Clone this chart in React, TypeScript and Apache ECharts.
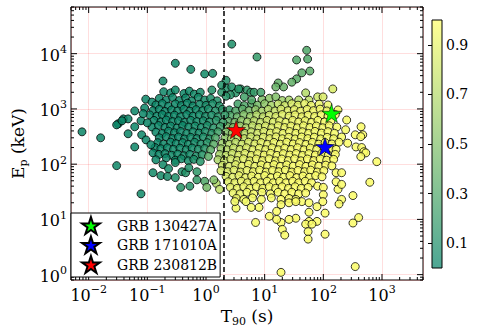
import React, { useEffect, useRef } from 'react';
import * as echarts from 'echarts';

const FONT = "'DejaVu Serif', serif";

// [T90 (s), Ep (keV), probability]
const shortCore: [number, number, number][] = [
  [0.19, 2050, 0.05], [0.25, 1950, 0.05], [0.3, 2200, 0.06], [0.42, 1900, 0.05], [0.52, 2100, 0.06], [0.63, 1850, 0.07], [0.8, 2000, 0.08], [1.26, 2200, 0.12], [1.85, 2000, 0.15],
  [0.094, 1500, 0.04], [0.12, 1330, 0.04], [0.16, 1550, 0.04], [0.21, 1450, 0.04], [0.27, 1600, 0.05], [0.35, 1420, 0.05], [0.45, 1580, 0.05], [0.57, 1400, 0.06], [0.74, 1620, 0.07], [0.95, 1450, 0.08], [1.2, 1550, 0.1], [1.55, 1400, 0.12], [2.2, 1700, 0.15],
  [0.14, 1180, 0.04], [0.18, 1250, 0.04], [0.23, 1120, 0.04], [0.3, 1230, 0.05], [0.38, 1150, 0.05], [0.48, 1270, 0.05], [0.6, 1130, 0.06], [0.78, 1210, 0.07], [1.0, 1160, 0.08], [1.3, 1240, 0.1], [1.7, 1130, 0.13],
  [0.09, 1040, 0.04], [0.125, 930, 0.04], [0.16, 980, 0.04], [0.2, 900, 0.04], [0.26, 960, 0.05], [0.33, 920, 0.05], [0.42, 990, 0.05], [0.53, 910, 0.06], [0.68, 970, 0.06], [0.88, 930, 0.07], [1.1, 1000, 0.09], [1.45, 920, 0.12], [1.9, 980, 0.15],
  [0.061, 920, 0.04], [0.11, 780, 0.04], [0.145, 740, 0.04], [0.18, 790, 0.04], [0.23, 730, 0.04], [0.29, 770, 0.05], [0.37, 720, 0.05], [0.47, 790, 0.05], [0.6, 740, 0.06], [0.77, 780, 0.07], [0.98, 730, 0.08], [1.25, 770, 0.1], [1.6, 720, 0.14], [2.1, 780, 0.2],
  [0.13, 620, 0.04], [0.17, 580, 0.04], [0.21, 630, 0.04], [0.27, 590, 0.05], [0.34, 610, 0.05], [0.43, 570, 0.05], [0.55, 620, 0.06], [0.7, 590, 0.07], [0.9, 610, 0.08], [1.15, 580, 0.11], [1.5, 620, 0.15], [1.95, 570, 0.22],
  [0.12, 470, 0.04], [0.155, 500, 0.04], [0.2, 460, 0.04], [0.25, 490, 0.05], [0.32, 450, 0.05], [0.4, 500, 0.05], [0.51, 470, 0.06], [0.65, 490, 0.07], [0.83, 460, 0.08], [1.05, 500, 0.1], [1.35, 450, 0.15], [1.75, 480, 0.22],
  [0.14, 380, 0.04], [0.18, 360, 0.04], [0.23, 395, 0.05], [0.29, 370, 0.05], [0.37, 390, 0.05], [0.47, 360, 0.06], [0.6, 385, 0.07], [0.76, 365, 0.08], [0.97, 390, 0.1], [1.25, 360, 0.15], [1.6, 385, 0.25],
  [0.16, 300, 0.04], [0.21, 315, 0.05], [0.27, 290, 0.05], [0.34, 310, 0.05], [0.43, 285, 0.06], [0.55, 305, 0.07], [0.7, 290, 0.08], [0.9, 310, 0.1], [1.15, 285, 0.15], [1.45, 300, 0.3],
  [0.15, 245, 0.04], [0.19, 230, 0.05], [0.25, 250, 0.05], [0.31, 235, 0.05], [0.4, 245, 0.06], [0.5, 228, 0.07], [0.64, 248, 0.08], [0.82, 232, 0.1], [1.05, 245, 0.15], [1.35, 230, 0.35],
  [0.135, 200, 0.04], [0.17, 190, 0.05], [0.22, 198, 0.05], [0.28, 185, 0.06], [0.36, 195, 0.06], [0.46, 182, 0.07], [0.58, 196, 0.08], [0.74, 185, 0.1], [0.95, 192, 0.15], [1.2, 182, 0.35],
  [0.125, 160, 0.04], [0.158, 150, 0.05], [0.2, 155, 0.05], [0.26, 145, 0.06], [0.33, 152, 0.06], [0.42, 142, 0.07], [0.53, 150, 0.08], [0.68, 140, 0.1], [0.86, 148, 0.15], [1.1, 138, 0.35],
  [0.14, 120, 0.05], [0.21, 130, 0.05], [0.3, 118, 0.06], [0.38, 125, 0.07], [0.5, 115, 0.08], [0.62, 122, 0.1], [0.8, 112, 0.15],
];

const shortSparse: [number, number, number][] = [
  [0.03, 94, 0.05], [0.078, 29, 0.06], [0.125, 70, 0.06], [0.17, 62, 0.07], [0.185, 98, 0.06], [0.22, 60, 0.08], [0.23, 83, 0.08],
  [0.3, 57, 0.1], [0.3, 107, 0.08], [0.39, 73, 0.12], [0.45, 70, 0.13], [0.51, 86, 0.12], [0.53, 40, 0.15], [0.7, 52, 0.2],
  [0.7, 73, 0.18], [0.95, 49, 0.3], [1.36, 52, 0.5], [1.03, 38, 0.45], [0.37, 38, 0.15],
];

const shortOutliers: [number, number, number][] = [
  [0.0077, 385, 0.04], [0.016, 300, 0.04], [0.032, 540, 0.04], [0.039, 660, 0.04], [0.047, 660, 0.04], [0.047, 355, 0.04],
  [0.061, 475, 0.04], [0.061, 205, 0.04], [0.078, 610, 0.04], [0.03, 515, 0.04], [0.037, 610, 0.04], [0.08, 340, 0.04],
  [0.095, 275, 0.04], [0.115, 225, 0.04], [0.085, 820, 0.04], [0.1, 560, 0.04], [0.185, 3200, 0.05], [0.3, 6700, 0.05],
  [0.55, 5200, 0.06], [0.95, 4300, 0.07], [1.3, 4400, 0.08], [2.75, 14900, 0.1], [2.2, 3300, 0.12], [1.85, 2700, 0.12],
];

const transitionUpper: [number, number, number][] = [
  [2.2, 2400, 0.12], [2.75, 2500, 0.12], [3.2, 1950, 0.15], [3.9, 2300, 0.15], [5.0, 2200, 0.18], [5.8, 2000, 0.2],
  [6.6, 2000, 0.2], [8.6, 2000, 0.25], [6.0, 1450, 0.3], [3.6, 2300, 0.15], [2.6, 1800, 0.15], [4.5, 1650, 0.25], [7.4, 8700, 0.2],
];

const upperChain: [number, number, number][] = [
  [52, 11500, 0.3], [35, 7700, 0.3], [54, 8000, 0.3], [59, 4850, 0.35], [43, 4500, 0.35], [35, 3500, 0.35],
  [29, 3050, 0.38], [21, 2500, 0.4], [17, 2950, 0.38], [15.5, 2500, 0.4],
];

const longCore: [number, number, number][] = [
  [9, 1480, 0.5], [12, 1560, 0.55], [15.5, 1650, 0.5], [20, 1420, 0.62], [26, 1450, 0.65], [38, 1450, 0.7], [50, 1950, 0.7], [57, 1450, 0.75], [80, 1650, 0.8], [99, 1650, 0.85], [145, 2300, 0.85],
  [3.5, 1230, 0.25], [4.5, 1150, 0.3], [6, 1250, 0.35], [7.5, 1170, 0.45], [10, 1240, 0.55], [13, 1160, 0.65], [17, 1230, 0.75], [22, 1150, 0.8], [29, 1240, 0.85], [37, 1170, 0.88], [48, 1250, 0.9], [62, 1160, 0.92], [85, 1220, 0.92], [120, 1180, 0.93],
  [2.5, 960, 0.2], [3.2, 920, 0.3], [4.2, 990, 0.35], [5.4, 930, 0.45], [7, 970, 0.55], [9, 910, 0.65], [11.5, 980, 0.7], [15, 920, 0.78], [19, 990, 0.83], [25, 930, 0.87], [32, 970, 0.9], [41, 910, 0.92], [53, 980, 0.93], [68, 930, 0.94], [88, 990, 0.95], [115, 920, 0.95], [178, 960, 0.96],
  [2.6, 760, 0.3], [3.4, 720, 0.4], [4.4, 790, 0.5], [5.7, 730, 0.6], [7.3, 780, 0.7], [9.4, 720, 0.75], [12, 770, 0.8], [15.5, 730, 0.85], [20, 790, 0.88], [26, 740, 0.9], [33, 780, 0.92], [43, 720, 0.93], [55, 770, 0.94], [71, 730, 0.95], [92, 780, 0.95], [120, 740, 0.96], [160, 790, 0.96],
  [2.4, 600, 0.35], [3.1, 570, 0.45], [4, 620, 0.55], [5.1, 580, 0.65], [6.6, 610, 0.72], [8.5, 570, 0.78], [11, 620, 0.83], [14, 580, 0.86], [18, 610, 0.89], [23, 570, 0.91], [30, 620, 0.93], [38, 580, 0.94], [49, 610, 0.95], [63, 570, 0.95], [81, 620, 0.96], [105, 580, 0.96], [135, 610, 0.97], [250, 630, 0.97],
  [2.3, 480, 0.45], [2.9, 460, 0.5], [3.8, 490, 0.6], [4.8, 455, 0.68], [6.2, 495, 0.75], [8, 460, 0.8], [10.3, 490, 0.85], [13.2, 455, 0.88], [17, 495, 0.9], [22, 460, 0.92], [28, 490, 0.93], [36, 455, 0.94], [46, 495, 0.95], [59, 460, 0.96], [76, 490, 0.96], [98, 455, 0.96], [126, 495, 0.97], [170, 470, 0.97], [240, 420, 0.97], [440, 475, 0.98],
  [2.2, 380, 0.5], [2.8, 365, 0.6], [3.6, 390, 0.66], [4.6, 360, 0.72], [5.9, 385, 0.78], [7.6, 362, 0.82], [9.7, 392, 0.86], [12.5, 365, 0.89], [16, 388, 0.91], [20.5, 360, 0.92], [26.5, 390, 0.94], [34, 362, 0.95], [44, 386, 0.95], [56, 360, 0.96], [72, 392, 0.96], [93, 365, 0.97], [120, 388, 0.97], [155, 362, 0.97], [205, 310, 0.97], [350, 340, 0.98], [470, 340, 0.98],
  [2.1, 300, 0.55], [2.7, 288, 0.65], [3.5, 310, 0.7], [4.5, 290, 0.76], [5.8, 312, 0.8], [7.4, 286, 0.84], [9.5, 308, 0.87], [12.2, 290, 0.9], [15.6, 312, 0.92], [20, 288, 0.93], [25.7, 306, 0.94], [33, 286, 0.95], [42.5, 310, 0.96], [54.5, 290, 0.96], [70, 308, 0.97], [90, 286, 0.97], [116, 306, 0.97], [150, 288, 0.97], [435, 315, 0.98],
  [1.9, 240, 0.6], [2.5, 228, 0.7], [3.2, 248, 0.75], [4.1, 230, 0.8], [5.3, 250, 0.84], [6.8, 232, 0.87], [8.7, 246, 0.9], [11.2, 228, 0.92], [14.4, 248, 0.93], [18.5, 230, 0.94], [23.8, 250, 0.95], [30.6, 232, 0.96], [39.3, 246, 0.96], [50.5, 228, 0.97], [65, 248, 0.97], [83.5, 230, 0.97], [107, 246, 0.97], [140, 232, 0.98], [185, 250, 0.98], [260, 240, 0.98],
  [1.8, 190, 0.62], [2.3, 182, 0.72], [2.95, 196, 0.78], [3.8, 184, 0.82], [4.9, 198, 0.86], [6.3, 182, 0.89], [8.1, 195, 0.91], [10.4, 183, 0.93], [13.4, 197, 0.94], [17.2, 182, 0.95], [22, 195, 0.96], [28.3, 184, 0.96], [36.4, 198, 0.97], [46.8, 182, 0.97], [60, 196, 0.97], [77, 184, 0.97], [128, 192, 0.98], [165, 185, 0.98], [360, 205, 0.98], [450, 200, 0.98],
  [1.7, 150, 0.65], [2.2, 144, 0.75], [2.8, 156, 0.8], [3.6, 145, 0.85], [4.6, 157, 0.88], [5.9, 144, 0.9], [7.6, 155, 0.92], [9.8, 146, 0.94], [12.6, 157, 0.95], [16.2, 144, 0.96], [20.8, 155, 0.96], [26.8, 146, 0.97], [34.4, 156, 0.97], [44.2, 144, 0.97], [56.8, 155, 0.97], [73, 146, 0.98], [94, 157, 0.98], [121, 145, 0.98], [160, 150, 0.98], [490, 168, 0.98], [530, 160, 0.98],
  [1.6, 120, 0.68], [2.05, 115, 0.78], [2.65, 124, 0.82], [3.4, 116, 0.86], [4.35, 125, 0.89], [5.6, 115, 0.91], [7.2, 124, 0.93], [9.2, 116, 0.94], [11.9, 125, 0.95], [15.3, 115, 0.96], [19.6, 124, 0.97], [25.2, 116, 0.97], [32.4, 125, 0.97], [41.6, 115, 0.98], [53.5, 124, 0.98], [68.8, 116, 0.98], [88.4, 125, 0.98], [114, 118, 0.98], [150, 122, 0.98], [435, 137, 0.98],
  [1.9, 95, 0.8], [2.5, 91, 0.84], [3.2, 98, 0.87], [4.1, 92, 0.9], [5.3, 99, 0.92], [6.8, 91, 0.93], [8.7, 97, 0.95], [11.2, 92, 0.96], [14.4, 98, 0.96], [18.5, 91, 0.97], [23.8, 97, 0.97], [30.6, 92, 0.97], [39.3, 98, 0.98], [50.5, 91, 0.98], [65, 97, 0.98], [83.5, 92, 0.98], [110, 96, 0.98], [140, 93, 0.98], [815, 111, 0.98],
  [1.8, 76, 0.82], [2.35, 73, 0.86], [3, 78, 0.88], [3.9, 72, 0.9], [5, 77, 0.92], [6.4, 73, 0.94], [8.2, 78, 0.95], [10.6, 72, 0.96], [13.6, 77, 0.96], [17.5, 73, 0.97], [22.5, 78, 0.97], [29, 72, 0.98], [37, 77, 0.98], [48, 73, 0.98], [61, 78, 0.98], [79, 72, 0.98], [102, 76, 0.98], [165, 70, 0.98], [205, 70, 0.98],
  [2.2, 60, 0.86], [2.85, 58, 0.88], [3.65, 62, 0.9], [4.7, 57, 0.92], [6, 61, 0.94], [7.8, 58, 0.95], [10, 62, 0.96], [12.8, 57, 0.97], [16.5, 61, 0.97], [21, 58, 0.97], [27, 62, 0.98], [35, 57, 0.98], [45, 61, 0.98], [58, 58, 0.98], [74, 62, 0.98], [95, 59, 0.98],
  [2.4, 48, 0.88], [3.1, 46, 0.9], [4, 49, 0.92], [5.1, 46, 0.93], [6.6, 49, 0.95], [8.5, 46, 0.96], [11, 49, 0.96], [14, 46, 0.97], [18, 49, 0.97], [23, 46, 0.98], [30, 49, 0.98], [38, 46, 0.98], [49, 49, 0.98], [63, 46, 0.98], [80, 40, 0.98], [165, 48, 0.98], [620, 47, 0.98],
  [2.6, 38, 0.9], [3.4, 36.5, 0.92], [4.4, 39, 0.93], [5.6, 36.5, 0.95], [7.2, 39, 0.96], [9.3, 36.5, 0.96], [12, 39, 0.97], [15.4, 36.5, 0.97], [19.8, 39, 0.98], [25.5, 36.5, 0.98], [33, 39, 0.98], [42, 36.5, 0.98], [55, 38, 0.98], [100, 38, 0.98], [178, 35, 0.98], [205, 43, 0.98],
  [2.9, 30, 0.92], [3.8, 29, 0.93], [5, 31, 0.95], [6.5, 29, 0.96], [9, 31, 0.96], [12.5, 29, 0.97], [17, 31, 0.97], [22, 29, 0.98], [29, 31, 0.98], [38, 29, 0.98], [50, 30, 0.98], [100, 28, 0.98], [320, 27, 0.98],
  [3.3, 24, 0.93], [4.4, 23, 0.95], [6.2, 24.5, 0.96], [8.8, 23, 0.96], [13, 24.5, 0.97], [19, 23, 0.98], [26, 24, 0.98], [34, 23, 0.98], [43, 21, 0.98], [98, 21, 0.98], [205, 23, 0.98],
];

const longSparse: [number, number, number][] = [
  [400, 10.8, 0.98], [320, 8.6, 0.98], [350, 1.4, 0.98], [19, 1.1, 0.98], [185, 19, 0.98], [107, 13, 0.98], [107, 5.4, 0.98],
  [78, 17, 0.98], [57, 13.5, 0.98], [57, 9.2, 0.98], [50, 8.2, 0.98], [55, 6, 0.98], [55, 4.4, 0.98], [78, 9.2, 0.98],
  [64, 8.2, 0.98], [34, 10.5, 0.98], [26, 10, 0.98], [19, 8.8, 0.98], [20, 6.6, 0.98], [22, 5.2, 0.98], [16, 10, 0.98],
  [12, 11.4, 0.98], [7, 8.8, 0.97], [8, 16.5, 0.97], [5.9, 16.5, 0.97], [4.8, 21, 0.96], [3.25, 16, 0.95], [3.1, 21, 0.95],
  [16, 14, 0.98], [19, 18.5, 0.98], [26, 20, 0.98], [34, 21, 0.98], [57, 20, 0.98], [1.5, 45, 0.7], [1.7, 35, 0.75],
];

const xMajor = [0.01, 0.1, 1, 10, 100, 1000];
const yMajor = [1, 10, 100, 1000, 10000];
const cbTicks = [0.1, 0.3, 0.5, 0.7, 0.9];

const stars = [
  { name: 'GRB 130427A', value: [138, 830], color: '#00ff00' },
  { name: 'GRB 171010A', value: [107, 207], color: '#0000ff' },
  { name: 'GRB 230812B', value: [3.26, 420], color: '#ff0000' },
];

const STAR = 'path://M50,0 L61.2,34.5 L97.6,34.5 L68.2,55.9 L79.4,90.5 L50,69.1 L20.6,90.5 L31.8,55.9 L2.4,34.5 L38.8,34.5 Z';

function minorTicks(lo: number, hi: number): number[] {
  const out: number[] = [];
  for (let e = -4; e <= 5; e++) {
    for (let k = 2; k <= 9; k++) {
      const v = k * Math.pow(10, e);
      if (v >= lo * 0.999 && v <= hi * 1.001) out.push(v);
    }
  }
  return out;
}

const logLabel = (v: number) => {
  const l = Math.log10(v);
  const e = Math.round(l);
  if (Math.abs(l - e) > 1e-6) return '';
  return `{b|10}{s|${e < 0 ? '\u2212' + -e : e}}`;
};

const labelRich = {
  b: { fontFamily: FONT, fontSize: 16, color: '#000', verticalAlign: 'bottom' },
  s: { fontFamily: FONT, fontSize: 11, color: '#000', verticalAlign: 'bottom', padding: [0, 0, 8, 0] },
};

export default function App() {
  const ref = useRef<HTMLDivElement>(null);
  useEffect(() => {
    if (!ref.current) return;
    const chart = echarts.init(ref.current, null, { renderer: 'svg' });
    const X0 = 0.005, X1 = 5000, Y0 = 0.8, Y1 = 70000;
    const xTickData = [
      ...xMajor.map((v) => [v, 1, 6]),
      ...minorTicks(X0, X1).map((v) => [v, 1, 3]),
    ];
    const yTickData = [
      ...yMajor.map((v) => [1, v, 6]),
      ...minorTicks(Y0, Y1).map((v) => [1, v, 3]),
    ];
    const points = [...longCore, ...longSparse, ...upperChain, ...transitionUpper, ...shortCore, ...shortSparse, ...shortOutliers];
    const tickStyle = { stroke: '#000', lineWidth: 1 };
    const option: any = {
      animation: false,
      textStyle: { fontFamily: FONT },
      grid: [
        { left: 71, top: 7, width: 352, height: 273, show: true, borderColor: '#000', borderWidth: 1, backgroundColor: 'transparent' },
        { left: 432, top: 20, width: 10, height: 248, show: false },
      ],
      xAxis: [
        {
          type: 'log', logBase: 10, min: X0, max: X1, gridIndex: 0,
          axisLine: { show: false }, axisTick: { show: false },
          splitLine: { show: true, lineStyle: { color: 'rgba(255,0,0,0.13)', width: 1 } },
          axisLabel: { formatter: logLabel, rich: labelRich, margin: 4, color: '#000' },
          name: '{a|T}{sub|90}{a| (s)}', nameLocation: 'middle', nameGap: 25,
          nameTextStyle: {
            rich: {
              a: { fontFamily: FONT, fontSize: 17, color: '#000', verticalAlign: 'top' },
              sub: { fontFamily: FONT, fontSize: 11, color: '#000', verticalAlign: 'top', padding: [8, 0, 0, 0] },
            },
          },
        },
        { type: 'value', gridIndex: 1, show: false, min: 0, max: 1 },
      ],
      yAxis: [
        {
          type: 'log', logBase: 10, min: Y0, max: Y1, gridIndex: 0,
          axisLine: { show: false }, axisTick: { show: false },
          splitLine: { show: true, lineStyle: { color: 'rgba(255,0,0,0.13)', width: 1 } },
          axisLabel: { formatter: logLabel, rich: labelRich, margin: 4, color: '#000' },
          name: '{a|E}{sub|p}{a| (keV)}', nameLocation: 'middle', nameGap: 37, nameRotate: 90,
          nameTextStyle: {
            rich: {
              a: { fontFamily: FONT, fontSize: 17, color: '#000', verticalAlign: 'top' },
              sub: { fontFamily: FONT, fontSize: 11, color: '#000', verticalAlign: 'top', padding: [8, 0, 0, 0] },
            },
          },
        },
        {
          type: 'value', gridIndex: 1, min: 0, max: 1, position: 'right',
          axisLine: { show: false },
          splitLine: { show: false },
          axisTick: { show: true, inside: true, length: 4, customValues: cbTicks, lineStyle: { color: '#000', width: 1 } },
          axisLabel: { customValues: cbTicks, formatter: (v: number) => v.toFixed(1), fontFamily: FONT, fontSize: 14, color: '#000', margin: 4 },
        },
      ],
      visualMap: {
        type: 'continuous', show: false, min: 0, max: 1, dimension: 2, seriesIndex: 0,
        inRange: { color: ['#008066', '#ffff66'] },
      },
      legend: {
        left: 71, top: 213, orient: 'vertical',
        padding: [3, 3, 3, 10], itemGap: 0.5, itemWidth: 18, itemHeight: 17,
        backgroundColor: '#fff', borderColor: '#000', borderWidth: 1, borderRadius: 0,
        textStyle: { fontFamily: FONT, fontSize: 14, lineHeight: 16, color: '#000', padding: [0, 0, 0, 12] },
        data: stars.map((s) => ({ name: s.name, icon: STAR })),
        z: 20,
      },
      graphic: [
        {
          type: 'rect', z: -1,
          shape: { x: 432, y: 20, width: 10, height: 248 },
          style: {
            fill: new echarts.graphic.LinearGradient(0, 0, 0, 1, [
              { offset: 0, color: 'rgba(255,255,102,0.7)' },
              { offset: 1, color: 'rgba(0,128,102,0.7)' },
            ]),
            stroke: '#000', lineWidth: 1,
          },
        },
      ],
      series: [
        {
          type: 'scatter', xAxisIndex: 0, yAxisIndex: 0, data: points, symbolSize: 8,
          itemStyle: { opacity: 0.85, borderColor: '#000', borderWidth: 0.9 },
          markLine: {
            silent: true, symbol: ['none', 'none'], label: { show: false },
            lineStyle: { color: '#000', type: [5, 3], width: 1.5 },
            data: [{ xAxis: 2 }],
            z: 10,
          },
          z: 2,
        },
        ...stars.map((s) => ({
          type: 'scatter', name: s.name, xAxisIndex: 0, yAxisIndex: 0,
          data: [s.value], symbol: STAR, symbolSize: 19, symbolKeepAspect: true,
          itemStyle: { color: s.color, borderColor: '#000', borderWidth: 0.5, opacity: 1 },
          z: 5,
        })),
        {
          type: 'custom', xAxisIndex: 0, yAxisIndex: 0, data: xTickData, silent: true, z: 8,
          encode: { x: 0, y: 1 },
          renderItem: (params: any, api: any) => {
            const cs = params.coordSys;
            const p = api.coord([api.value(0), api.value(1)]);
            const len = api.value(2);
            const x = p[0];
            return {
              type: 'group',
              children: [
                { type: 'line', shape: { x1: x, y1: cs.y + cs.height, x2: x, y2: cs.y + cs.height - len }, style: tickStyle },
                { type: 'line', shape: { x1: x, y1: cs.y, x2: x, y2: cs.y + len }, style: tickStyle },
              ],
            };
          },
        },
        {
          type: 'custom', xAxisIndex: 0, yAxisIndex: 0, data: yTickData, silent: true, z: 8,
          encode: { x: 0, y: 1 },
          renderItem: (params: any, api: any) => {
            const cs = params.coordSys;
            const p = api.coord([api.value(0), api.value(1)]);
            const len = api.value(2);
            const y = p[1];
            return {
              type: 'group',
              children: [
                { type: 'line', shape: { x1: cs.x, y1: y, x2: cs.x + len, y2: y }, style: tickStyle },
                { type: 'line', shape: { x1: cs.x + cs.width, y1: y, x2: cs.x + cs.width - len, y2: y }, style: tickStyle },
              ],
            };
          },
        },
      ],
    };
    chart.setOption(option);
    return () => chart.dispose();
  }, []);
  return <div ref={ref} style={{ position: 'fixed', left: 0, top: 0, width: 477, height: 334, background: '#fff' }} />;
}
